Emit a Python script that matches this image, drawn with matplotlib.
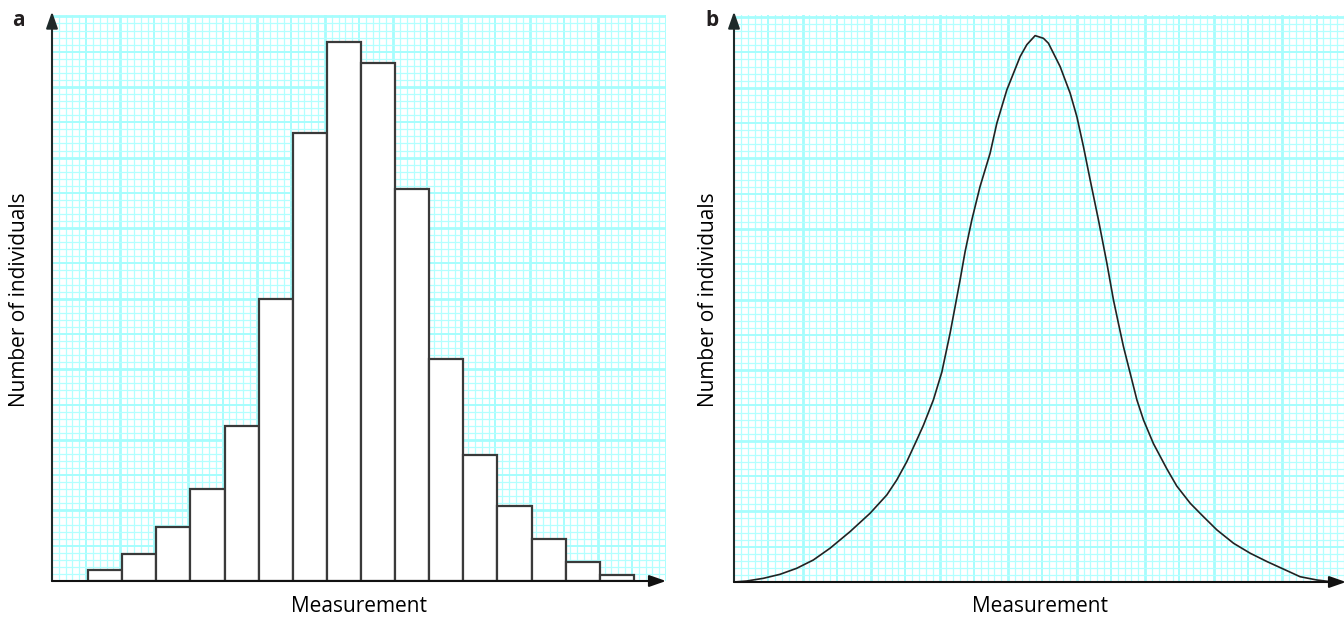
import numpy as np
import matplotlib.pyplot as plt

plt.rcParams['font.family'] = ['Open Sans', 'DejaVu Sans']

# panel a: histogram (heights in minor grid squares)
bin_start = 5.3
bin_width = 5.0
counts = [1.5, 3.8, 7.6, 13.0, 22.0, 40.0, 63.5, 76.4,
          73.4, 55.5, 31.4, 17.8, 10.6, 5.9, 2.7, 0.9]

# panel b: smooth curve
curve_x = [0, 1.85, 4.28, 6.72, 9.15, 11.58, 14.01, 16.93, 19.85, 22.29,
           23.75, 25.21, 26.67, 27.64, 29.09, 30.32, 31.53, 32.26, 32.99,
           33.72, 34.70, 35.9, 37.37, 38.35, 39.81, 40.78, 41.75, 42.73,
           43.94, 45.15, 45.88, 46.61, 47.59, 48.32, 49.05, 50.03, 50.99,
           51.97, 53.18, 54.41, 55.37, 56.1, 56.83, 57.8, 58.79, 59.75,
           61.2, 63.17, 64.6, 66.57, 68.5, 70.47, 72.9, 75.33, 77.8, 80.69,
           82.6, 85.07, 87.45]
curve_y = [0, 0.14, 0.52, 1.09, 1.94, 3.12, 4.78, 7.13, 9.73, 12.32,
           14.45, 17.04, 20.11, 22.2, 25.78, 29.7, 35.23, 38.99, 42.78,
           46.78, 51.27, 56.0, 60.72, 64.97, 69.69, 72.05, 74.41, 76.1,
           77.38, 77.0, 76.30, 74.89, 72.99, 71.1, 69.22, 65.9, 61.66,
           56.94, 51.27, 45.14, 39.94, 36.6, 33.33, 29.6, 25.78, 22.95,
           19.6, 16.0, 13.6, 11.15, 9.25, 7.37, 5.48, 4.07, 2.88, 1.6,
           0.75, 0.28, 0]

minor_col = '#b3ffff'
major_col = '#a6fdfd'
axis_col = '#1e2a2a'

W, H = 1344, 619


def graph_paper(ax, xmax, ymax):
    ax.set_xlim(0, xmax)
    ax.set_ylim(0, ymax)
    for x in np.arange(1, xmax + 0.01, 1):
        if x % 10 == 0:
            ax.axvline(x, color=major_col, lw=2.0, zorder=0)
        elif x % 5 == 0:
            ax.axvline(x, color=major_col, lw=1.4, zorder=0)
        else:
            ax.axvline(x, color=minor_col, lw=0.9, zorder=0)
    for y in np.arange(1, ymax + 0.01, 1):
        if y % 10 == 0:
            ax.axhline(y, color=major_col, lw=2.0, zorder=0)
        elif y % 5 == 0:
            ax.axhline(y, color=major_col, lw=1.4, zorder=0)
        else:
            ax.axhline(y, color=minor_col, lw=0.9, zorder=0)
    for s in ax.spines.values():
        s.set_visible(False)
    ax.set_xticks([])
    ax.set_yticks([])
    # axes with arrow heads
    head = '-|>,head_length=1.0,head_width=0.35'
    ax.annotate('', xy=(0, 1.006), xytext=(0, 0), xycoords='axes fraction',
                arrowprops=dict(arrowstyle=head, color=axis_col, lw=1.5,
                                mutation_scale=10, shrinkA=0, shrinkB=0),
                annotation_clip=False, zorder=5)
    ax.annotate('', xy=(1.0, 0), xytext=(0, 0), xycoords='axes fraction',
                arrowprops=dict(arrowstyle=head, color='#111111', lw=1.5,
                                mutation_scale=10, shrinkA=0, shrinkB=0),
                annotation_clip=False, zorder=5)


fig = plt.figure(figsize=(13.44, 6.19), dpi=100)

ax1 = fig.add_axes([52 / W, 38 / H, 614 / W, 566 / H])
graph_paper(ax1, 90, 80.2)
lefts = bin_start + bin_width * np.arange(len(counts))
ax1.bar(lefts, counts, width=bin_width, align='edge', color='white',
        edgecolor='#3a3a3a', linewidth=1.6, zorder=3)

ax2 = fig.add_axes([734 / W, 37 / H, 612 / W, 567 / H])
graph_paper(ax2, 89.3, 80.3)
ax2.plot(curve_x, curve_y, color='#222222', lw=1.2, zorder=3)

fs = 15
fig.text(359 / W, 1 - 607 / H, 'Measurement', fontsize=fs, ha='center', va='center')
fig.text(1040 / W, 1 - 607 / H, 'Measurement', fontsize=fs, ha='center', va='center')
fig.text(20 / W, 1 - 300 / H, 'Number of individuals', fontsize=fs,
         rotation=90, ha='center', va='center')
fig.text(708 / W, 1 - 300 / H, 'Number of individuals', fontsize=fs,
         rotation=90, ha='center', va='center')

fig.text(12 / W, 1 - 21 / H, 'a', fontsize=15, fontweight='bold',
         color='#231f20', va='center')
fig.text(705 / W, 1 - 21 / H, 'b', fontsize=15, fontweight='bold',
         color='#231f20', va='center')

fig.savefig('out.png', dpi=100)
